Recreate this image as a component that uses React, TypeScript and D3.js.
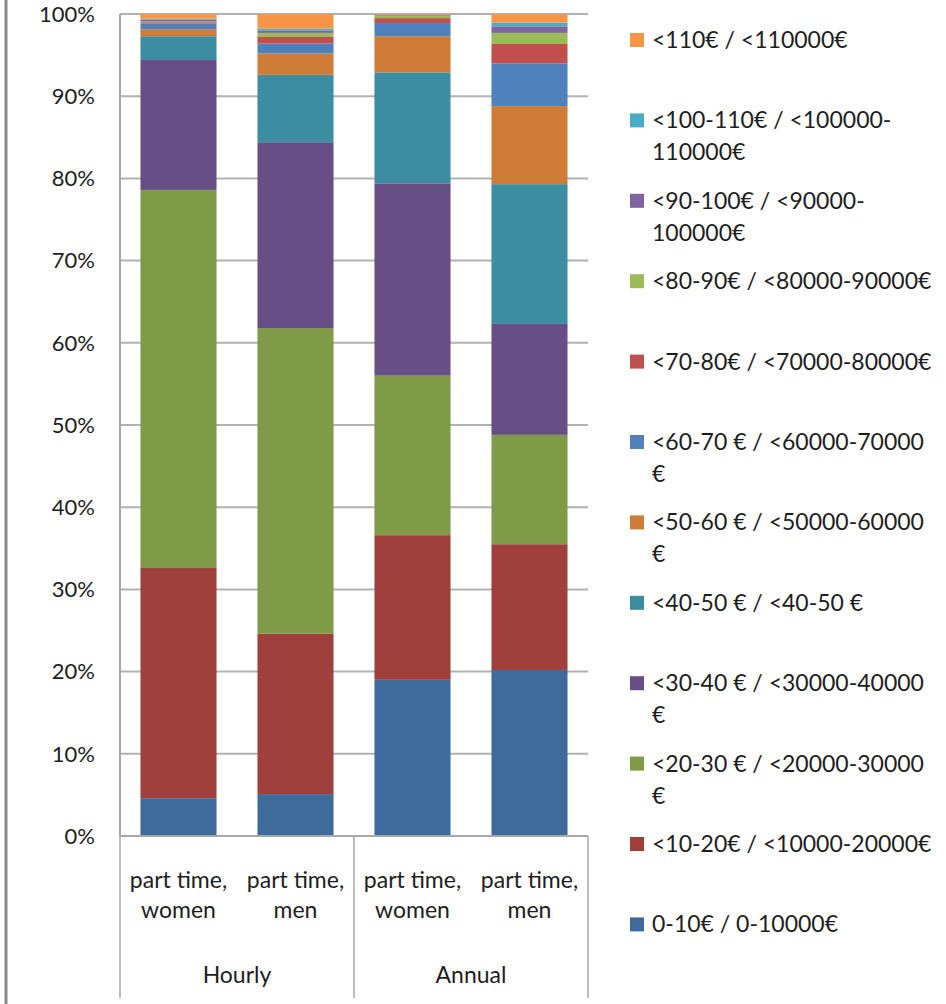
import React from "react";
import * as d3 from "d3";

// ---- data ----
const groups = ["Hourly", "Annual"];
const categories = ["part time, women", "part time, men", "part time, women", "part time, men"];
const categoryGroup = [0, 0, 1, 1];

const seriesNames = [
  "0-10€ / 0-10000€",
  "<10-20€ / <10000-20000€",
  "<20-30 € / <20000-30000\n€",
  "<30-40 € / <30000-40000\n€",
  "<40-50 € / <40-50 €",
  "<50-60 € / <50000-60000\n€",
  "<60-70 € / <60000-70000\n€",
  "<70-80€ / <70000-80000€",
  "<80-90€ / <80000-90000€",
  "<90-100€ / <90000-\n100000€",
  "<100-110€ / <100000-\n110000€",
  "<110€ / <110000€",
];

const s0_10 = [4.6, 5.1, 19.0, 20.2];
const s10_20 = [28.0, 19.5, 17.6, 15.3];
const s20_30 = [46.0, 37.2, 19.4, 13.3];
const s30_40 = [15.8, 22.6, 23.4, 13.5];
const s40_50 = [2.9, 8.2, 13.5, 17.0];
const s50_60 = [0.85, 2.6, 4.4, 9.5];
const s60_70 = [0.7, 1.2, 1.6, 5.2];
const s70_80 = [0.15, 0.8, 0.6, 2.35];
const s80_90 = [0.1, 0.5, 0.3, 1.35];
const s90_100 = [0.2, 0.25, 0.1, 0.8];
const s100_110 = [0.12, 0.25, 0.0, 0.45];
const s110 = [0.58, 1.8, 0.1, 1.05];

const seriesValues = [s0_10, s10_20, s20_30, s30_40, s40_50, s50_60, s60_70, s70_80, s80_90, s90_100, s100_110, s110];

const colors = [
  "#3F6A9C", "#A0403D", "#7F9B48", "#674F86", "#3C8CA2", "#CF7C38",
  "#4F81BD", "#C0504D", "#9BBB59", "#8064A2", "#4BACC6", "#F79646",
];

const yTicks = [0, 10, 20, 30, 40, 50, 60, 70, 80, 90, 100];

const FONT = "Lato, 'Open Sans', sans-serif";
const TEXT = "#1e1e1e";

export default function App() {
  const W = 946, H = 1004;
  const left = 120, right = 588, top = 14, bottom = 836;
  const ids = categories.map((_, i) => "c" + i);
  const x = d3.scaleBand().domain(ids).range([left, right]).paddingInner(0.35).paddingOuter(0.175);
  const y = d3.scaleLinear().domain([0, 100]).range([bottom, top]);

  const keys = seriesNames.map((_, i) => "s" + i);
  const table = ids.map((id, ci) => {
    const row: any = { id };
    keys.forEach((k, si) => (row[k] = seriesValues[si][ci]));
    return row;
  });
  const stacked = d3.stack().keys(keys)(table as any);

  const step = x.step();
  const groupEdges = [left, left + step * 2, right];

  const legendX = 630, legendTextX = 652, legendTop = 40, legendStep = 80.4;
  const legendOrder = seriesNames.map((_, i) => i).reverse();

  return (
    <svg width={W} height={H} style={{ position: "absolute", left: 0, top: 0, background: "#fff" }} fontFamily={FONT}>
      {/* outer frame edge */}
      <line x1={6} x2={6} y1={0} y2={H} stroke="#8a8a8a" strokeWidth={3} />

      {/* gridlines */}
      {yTicks.map((t) => (
        <line key={"g" + t} x1={left} x2={right} y1={y(t)} y2={y(t)} stroke="#b2b2b2" strokeWidth={2} />
      ))}

      {/* bars */}
      {stacked.map((layer, si) => (
        <g key={"l" + si} fill={colors[si]}>
          {layer.map((d: any, ci) => {
            const h = y(d[0]) - y(d[1]);
            if (h <= 0) return null;
            return <rect key={ci} x={x(ids[ci])} width={x.bandwidth()} y={y(d[1])} height={h} />;
          })}
        </g>
      ))}

      {/* y axis */}
      <line x1={left} x2={left} y1={top} y2={bottom} stroke="#a8a8a8" strokeWidth={2} />
      {yTicks.map((t) => (
        <text key={"t" + t} x={95} y={y(t)} dy="0.35em" textAnchor="end" fontSize={22} fill={TEXT}>
          {t + "%"}
        </text>
      ))}

      {/* category axis */}
      <line x1={left} x2={right} y1={bottom} y2={bottom} stroke="#a8a8a8" strokeWidth={2} />
      {groupEdges.map((gx, i) => (
        <line key={"e" + i} x1={gx} x2={gx} y1={bottom} y2={998} stroke="#a8a8a8" strokeWidth={1.5} />
      ))}
      {categories.map((c, ci) => {
        const cx = (x(ids[ci]) as number) + x.bandwidth() / 2;
        const parts = c.split(", ");
        return (
          <text key={"c" + ci} x={cx} textAnchor="middle" fontSize={23} fill={TEXT}>
            <tspan x={cx} y={888}>{parts[0] + ","}</tspan>
            <tspan x={cx} y={918}>{parts[1]}</tspan>
          </text>
        );
      })}
      {groups.map((g, gi) => {
        const gIdx = categoryGroup.map((v, i) => (v === gi ? i : -1)).filter((i) => i >= 0);
        const gx = (groupEdges[gi] + groupEdges[gi + 1]) / 2;
        return (
          <text key={"grp" + gi} x={gx} y={983} textAnchor="middle" fontSize={23} fill={TEXT} data-n={gIdx.length}>
            {g}
          </text>
        );
      })}

      {/* legend */}
      {legendOrder.map((si, li) => {
        const cy = legendTop + li * legendStep;
        const lines = seriesNames[si].split("\n");
        return (
          <g key={"lg" + si}>
            <rect x={legendX} y={cy - 7} width={14} height={14} fill={colors[si]} />
            <text fontSize={23} fill={TEXT}>
              {lines.map((ln, k) => (
                <tspan key={k} x={legendTextX} y={cy + k * 32} dy="0.35em">
                  {ln}
                </tspan>
              ))}
            </text>
          </g>
        );
      })}
    </svg>
  );
}
